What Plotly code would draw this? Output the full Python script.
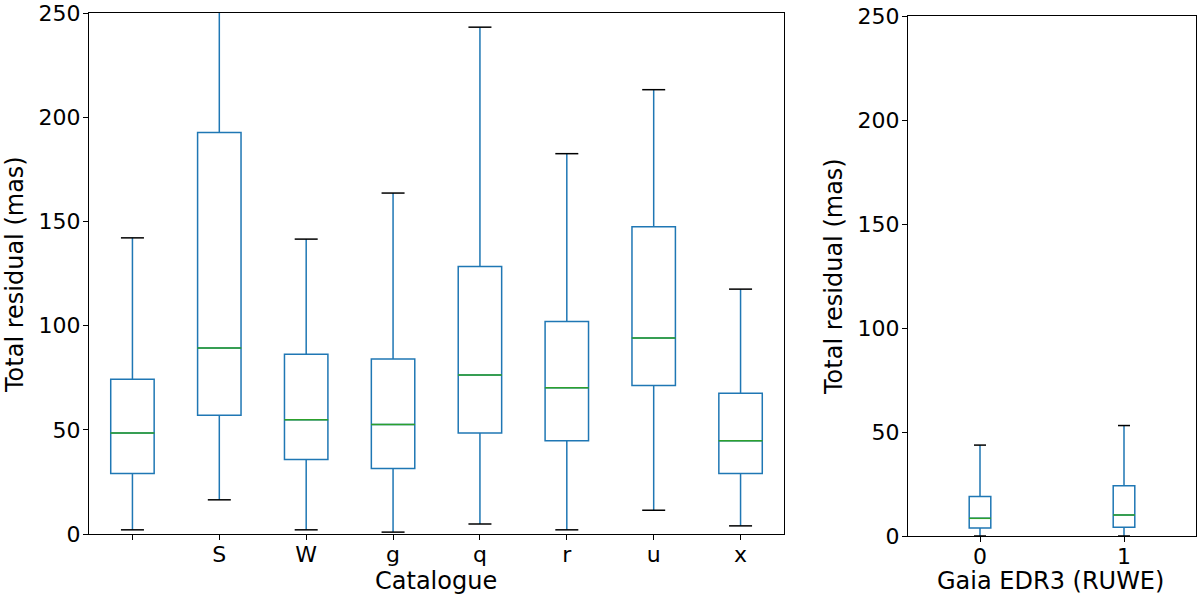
import plotly.graph_objects as go

# ---- data ----
catalogues = ["", "S", "W", "g", "q", "r", "u", "x"]
cat_low = [2.0, 16.4, 2.0, 0.9, 4.8, 2.0, 11.4, 3.9]
cat_q1 = [29.0, 57.0, 35.8, 31.4, 48.5, 44.7, 71.3, 29.0]
cat_median = [48.5, 89.2, 54.8, 52.6, 76.3, 70.2, 94.1, 44.7]
cat_q3 = [74.3, 192.6, 86.2, 84.0, 128.3, 102.0, 147.4, 67.5]
cat_high = [142.1, 262.0, 141.5, 163.6, 243.2, 182.5, 213.2, 117.5]

ruwe = ["0", "1"]
ruwe_low = [0.0, 0.0]
ruwe_q1 = [3.9, 4.2]
ruwe_median = [8.5, 10.1]
ruwe_q3 = [19.0, 24.1]
ruwe_high = [43.7, 53.1]

y_ticks = [0, 50, 100, 150, 200, 250]

BLUE = "#1f77b4"
GREEN = "#2ca02c"
FONT = "DejaVu Sans"

W, H = 1200, 600


def px_x(v):
    return v / W


def px_y(v):
    return 1 - v / H


fig = go.Figure()


def add_panel(labels, low, q1, med, q3, high, xa, ya, box_w, median_px, cap_px):
    pos = list(range(len(labels)))
    fig.add_trace(go.Box(
        x=pos, q1=q1, median=med, q3=q3, lowerfence=low, upperfence=high,
        width=box_w, whiskerwidth=0, line=dict(color=BLUE, width=1.5),
        fillcolor="rgba(0,0,0,0)", boxpoints=False, showlegend=False,
        hoverinfo="skip", xaxis=xa, yaxis=ya,
    ))
    fig.add_trace(go.Scatter(
        x=pos, y=med, mode="markers", showlegend=False, hoverinfo="skip",
        marker=dict(symbol="line-ew", size=median_px / 1.4,
                    line=dict(color=GREEN, width=1.5)),
        xaxis=xa, yaxis=ya,
    ))
    fig.add_trace(go.Scatter(
        x=pos + pos, y=low + high, mode="markers", showlegend=False,
        hoverinfo="skip",
        marker=dict(symbol="line-ew", size=cap_px / 1.4,
                    line=dict(color="black", width=1.5)),
        xaxis=xa, yaxis=ya,
    ))


add_panel(catalogues, cat_low, cat_q1, cat_median, cat_q3, cat_high,
          "x", "y", 0.5, 44, 23)
add_panel(ruwe, ruwe_low, ruwe_q1, ruwe_median, ruwe_q3, ruwe_high,
          "x2", "y2", 0.15, 22, 12)

axis_common = dict(
    showline=True, linecolor="black", linewidth=1.3, mirror=True,
    ticks="outside", ticklen=5, tickwidth=1.3, tickcolor="black",
    showgrid=False, zeroline=False, automargin=False,
    ticklabeloverflow="allow",
    tickfont=dict(family=FONT, size=22, color="black"),
)
x_common = dict(ticklabelstandoff=-5, **axis_common)
y_common = dict(ticklabelstandoff=-2, **axis_common)

title_font = dict(family=FONT, size=24, color="black")

fig.update_layout(
    width=W, height=H,
    margin=dict(l=0, r=0, t=0, b=0),
    paper_bgcolor="white", plot_bgcolor="white",
    font=dict(family=FONT, size=22, color="black"),
    xaxis=dict(domain=[px_x(89), px_x(784)], range=[-0.5, 7.5],
               tickmode="array", tickvals=list(range(len(catalogues))),
               ticktext=catalogues, anchor="y", **x_common),
    yaxis=dict(domain=[px_y(534), px_y(13)], range=[0, 250],
               tickmode="array", tickvals=y_ticks, anchor="x", **y_common),
    xaxis2=dict(domain=[px_x(908), px_x(1196)], range=[-0.5, 1.5],
                tickmode="array", tickvals=[0, 1], ticktext=ruwe,
                anchor="y2", **x_common),
    yaxis2=dict(domain=[px_y(536), px_y(16)], range=[0, 250],
                tickmode="array", tickvals=y_ticks, anchor="x2", **y_common),
    annotations=[
        dict(text="Catalogue", x=px_x(436), y=px_y(581), xref="paper",
             yref="paper", xanchor="center", yanchor="middle",
             showarrow=False, font=title_font),
        dict(text="Gaia EDR3 (RUWE)", x=px_x(1050), y=px_y(581),
             xref="paper", yref="paper", xanchor="center", yanchor="middle",
             showarrow=False, font=title_font),
        dict(text="Total residual (mas)", x=px_x(15), y=px_y(275),
             xref="paper", yref="paper", xanchor="center", yanchor="middle",
             textangle=-90, showarrow=False, font=title_font),
        dict(text="Total residual (mas)", x=px_x(834), y=px_y(276),
             xref="paper", yref="paper", xanchor="center", yanchor="middle",
             textangle=-90, showarrow=False, font=title_font),
    ],
)

fig.write_html("out.html",
               config={"displayModeBar": False},
               post_script="document.body.style.margin='0';")
